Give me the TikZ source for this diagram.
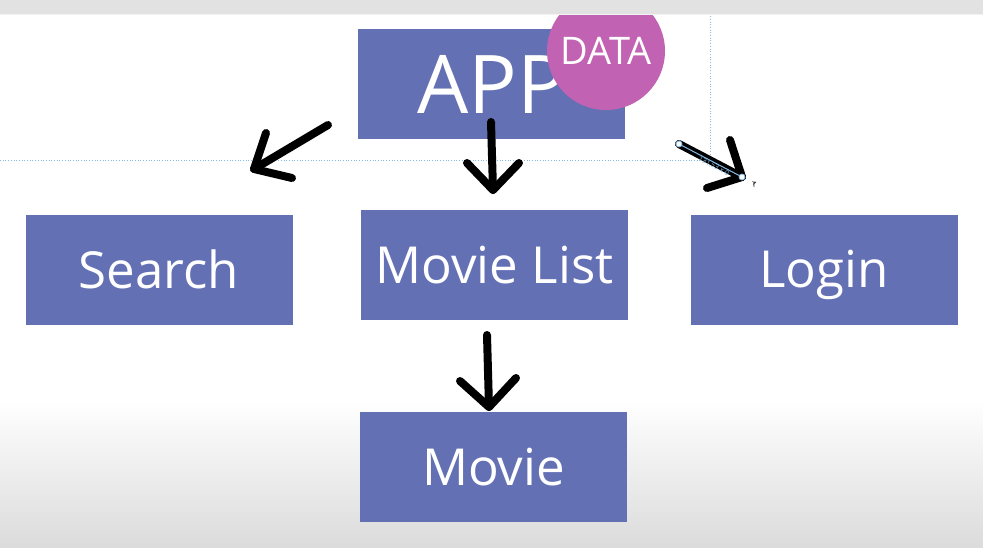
\documentclass[tikz,border=0pt]{standalone}
\usepackage{fontspec}
\setmainfont{Open Sans}

\definecolor{boxblue}{RGB}{100,112,180}
\definecolor{datapink}{RGB}{194,98,178}
\definecolor{guide}{RGB}{130,185,230}
\definecolor{topbar}{RGB}{226,226,226}

\tikzset{
	box/.style={fill=boxblue, text=white, minimum width=267pt, minimum height=110pt, inner sep=0pt,
		text height=36.5pt, text depth=0pt, font=\fontsize{51}{51}\selectfont},
	hand/.style={black, line width=8pt, line cap=round, line join=round},
	guideline/.style={guide, line width=0.7pt, dotted},
}

\begin{document}
\begin{tikzpicture}[x=1pt, y=-1pt]
	
	\useasboundingbox (0,0) rectangle (983,547);
	\fill[white] (0,0) rectangle (983,547);
	\shade[top color=white, bottom color=black!14] (0,400) rectangle (983,547);
	
	\draw[guideline] (0,160) -- (710,160) -- (710,14);
	
	\node[box, text height=58pt, font=\fontsize{81}{81}\selectfont] (app) at (491.5,84) {APP};
	\node[box] (search) at (159,270) {Search};
	\node[box] (list) at (494.5,265) {Movie List};
	\node[box] (login) at (824,269.5) {Login};
	\node[box] (movie) at (493.5,467) {Movie};
	
	\node[circle, fill=datapink, text=white, minimum size=118pt, inner sep=0pt,
		font=\fontsize{38}{38}\selectfont] (data) at (606,51) {DATA};
	
	\fill[topbar] (0,0) rectangle (983,14);
	\draw[white!95!black, line width=1pt] (0,14.5) -- (983,14.5);
	
	\coordinate (s1) at (328,125);
	\coordinate (t1) at (254,169);
	\coordinate (s2) at (491,122);
	\coordinate (t2) at (493,190);
	\coordinate (s3) at (679,144);
	\coordinate (t3) at (742,177);
	\coordinate (s4) at (487,335);
	\coordinate (t4) at (489,407);
	
	\draw[hand] (s1) -- (t1);
	\draw[hand] (266,133) -- (t1) -- (292,178);
	\draw[hand] (s2) -- (t2);
	\draw[hand] (467,163) -- (t2) -- (519,163);
	\draw[hand] (s3) -- (t3);
	\draw[hand] (730,140) -- (t3) -- (707,188);
	\draw[hand] (s4) -- (t4);
	\draw[hand] (460,381) -- (t4) -- (516,378);
	
	\draw[guide, line width=1pt] (s3) -- (t3);
	\draw[guide, fill=white, line width=0.8pt] (s3) circle (3pt) (t3) circle (3pt);
	\node[guide, rotate=-28, font=\fontsize{7}{7}\selectfont] (size) at (714,166) {131.53 x 0};
	\draw[black!75, line width=0.8pt, -stealth] (754,187) arc (200:110:4pt);
	
	\end{tikzpicture}
\end{document}
